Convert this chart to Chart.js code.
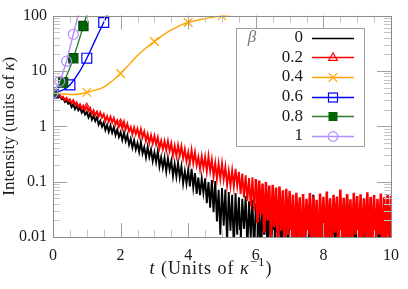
<!DOCTYPE html>
<html>
<head>
<meta charset="utf-8">
<script src="https://cdn.jsdelivr.net/npm/chart.js@4.4.0/dist/chart.umd.min.js"></script>
<style>
  html, body { margin: 0; padding: 0; background: #fff; }
  canvas { display: block; }
</style>
</head>
<body>
<canvas id="chart" width="408" height="289"></canvas>
<script>
// beta values shown in the legend
const betas = ['0', '0.2', '0.4', '0.6', '0.8', '1'];

// noisy traces, sampled every 0.05 in t
const noisyStep = 0.05;
const beta0 = [
  4.00, 3.67, 3.92, 3.33, 3.53, 3.10, 3.29, 2.76, 2.93, 2.55, 2.70,
  2.22, 2.49, 2.05, 2.35, 1.94, 2.18, 1.76, 1.99, 1.63, 1.81,
  1.45, 1.73, 1.32, 1.55, 1.24, 1.46, 1.07, 1.26, 0.99, 1.17,
  0.86, 1.06, 0.80, 1.03, 0.77, 0.97, 0.69, 0.875, 0.646, 0.786,
  0.567, 0.772, 0.542, 0.693, 0.466, 0.595, 0.410, 0.557, 0.383, 0.499,
  0.345, 0.520, 0.324, 0.420, 0.275, 0.426, 0.278, 0.380, 0.236, 0.339,
  0.226, 0.355, 0.189, 0.278, 0.178, 0.271, 0.153, 0.264, 0.163, 0.235,
  0.126, 0.208, 0.124, 0.221, 0.118, 0.188, 0.093, 0.154, 0.092, 0.164,
  0.082, 0.171, 0.078, 0.143, 0.060, 0.119, 0.057, 0.114, 0.063, 0.115,
  0.041, 0.098, 0.034, 0.107, 0.028, 0.103, 0.019, 0.071, 0.011, 0.077,
  0.016, 0.072, 0.008, 0.065, 0.013, 0.058, 0.006, 0.062, 0.011, 0.052,
  0.007, 0.049, 0.014, 0.055, 0.006, 0.044, 0.010, 0.047, 0.005, 0.040,
  0.009, 0.036, 0.004, 0.042, 0.011, 0.031, 0.006, 0.038, 0.008, 0.045,
  0.005, 0.029, 0.012, 0.040, 0.004, 0.033, 0.009, 0.052, 0.006, 0.030,
  0.010, 0.037, 0.005, 0.028, 0.008, 0.043, 0.004, 0.034, 0.011, 0.039,
  0.006, 0.031, 0.009, 0.058, 0.005, 0.035, 0.012, 0.030, 0.004, 0.041,
  0.008, 0.033, 0.006, 0.038, 0.010, 0.029, 0.005, 0.044, 0.009, 0.032,
  0.004, 0.036, 0.011, 0.055, 0.006, 0.030, 0.008, 0.039, 0.005, 0.034,
  0.010, 0.042, 0.004, 0.031, 0.009, 0.037, 0.006, 0.050, 0.012, 0.033,
  0.005, 0.040, 0.008, 0.029, 0.004, 0.036, 0.010, 0.045, 0.006, 0.032
];
const beta02 = [
  4.00, 3.66, 4.02, 3.47, 3.73, 3.23, 3.39, 2.97, 3.25, 2.85, 3.06,
  2.62, 2.96, 2.49, 2.71, 2.24, 2.49, 2.09, 2.36, 1.99, 2.25,
  1.88, 2.13, 1.68, 1.93, 1.59, 1.84, 1.50, 1.78, 1.44, 1.65,
  1.25, 1.52, 1.21, 1.48, 1.18, 1.41, 1.08, 1.28, 0.98, 1.17,
  0.907, 1.199, 0.879, 1.103, 0.809, 0.964, 0.719, 0.951, 0.722, 0.905,
  0.649, 0.893, 0.633, 0.802, 0.546, 0.720, 0.501, 0.689, 0.489, 0.672,
  0.470, 0.629, 0.402, 0.549, 0.385, 0.538, 0.369, 0.540, 0.361, 0.494,
  0.295, 0.444, 0.292, 0.451, 0.297, 0.435, 0.263, 0.385, 0.233, 0.341,
  0.216, 0.374, 0.216, 0.340, 0.196, 0.278, 0.167, 0.287, 0.177, 0.278,
  0.153, 0.288, 0.155, 0.250, 0.124, 0.216, 0.112, 0.210, 0.113, 0.213,
  0.110, 0.185, 0.086, 0.155, 0.084, 0.160, 0.082, 0.170, 0.084, 0.150,
  0.060, 0.140, 0.052, 0.130, 0.045, 0.116, 0.036, 0.120, 0.030, 0.112,
  0.018, 0.105, 0.025, 0.092, 0.012, 0.098, 0.020, 0.085, 0.009, 0.088,
  0.015, 0.078, 0.007, 0.082, 0.013, 0.070, 0.006, 0.074, 0.011, 0.068,
  0.008, 0.058, 0.005, 0.063, 0.010, 0.052, 0.004, 0.060, 0.007, 0.049,
  0.011, 0.062, 0.006, 0.055, 0.009, 0.047, 0.004, 0.061, 0.008, 0.053,
  0.005, 0.066, 0.010, 0.050, 0.006, 0.058, 0.012, 0.054, 0.004, 0.072,
  0.008, 0.051, 0.005, 0.060, 0.009, 0.048, 0.006, 0.063, 0.011, 0.055,
  0.004, 0.059, 0.007, 0.050, 0.010, 0.064, 0.005, 0.053, 0.008, 0.057,
  0.006, 0.049, 0.011, 0.061, 0.004, 0.052, 0.009, 0.058, 0.006, 0.055
];

// smooth growing traces
const tBeta04 = [0, 0.25, 0.5, 0.75, 1, 1.25, 1.5, 1.75, 2, 2.25, 2.5, 2.75, 3, 3.25, 3.5, 3.75, 4, 4.25, 4.5, 4.75, 5, 5.25, 5.5];
const beta04 = [4, 3.85, 3.75, 3.8, 4.1, 4.5, 5.1, 6.6, 9.0, 13, 19, 26, 34, 44, 55, 66, 75, 82, 88, 94, 99, 104, 109];
const tBeta06 = [0, 0.25, 0.5, 0.75, 1, 1.25, 1.5, 1.75];
const beta06 = [4, 4.4, 5.6, 9, 17, 36, 75, 150];
const tBeta08 = [0, 0.15, 0.3, 0.45, 0.6, 0.75, 0.9, 1.05];
const beta08 = [4, 4.9, 6.2, 9.6, 17, 33, 65, 130];
const tBeta1 = [0, 0.1, 0.2, 0.3, 0.4, 0.5, 0.6, 0.7, 0.8];
const beta1 = [4, 4.9, 6.5, 9.6, 15, 26, 46, 80, 140];

const xTicks = [0, 2, 4, 6, 8, 10];
const yTicks = [0.01, 0.1, 1, 10, 100];
const yTickLabels = ['0.01', '0.1', '1', '10', '100'];

const serif = "'Liberation Serif', serif";

function zip(xs, ys) {
  return ys.map((y, i) => ({ x: xs[i], y: y }));
}
const noisyTimes = beta0.map((_, i) => +(i * noisyStep).toFixed(2));

function everyNth(n, r, last) {
  return ctx => (ctx.dataIndex % n === 0 && ctx.dataIndex <= last ? r : 0);
}

const series = [
  { label: '0', data: zip(noisyTimes, beta0), color: '#000000', style: false, order: 6, width: 1.9, floorWidth: 2.2 },
  { label: '0.2', data: zip(noisyTimes, beta02), color: '#ff0000', style: 'triangle', order: 5, width: 1.9, floorWidth: 2.5, every: 20, last: 40, r: 3.5 },
  { label: '0.4', data: zip(tBeta04, beta04), color: '#ffa500', style: 'crossRot', order: 4, width: 1.4, every: 4, last: 99, r: 6 },
  { label: '0.6', data: zip(tBeta06, beta06), color: '#0000ff', style: 'rect', order: 3, width: 1.4, every: 2, last: 99, r: 7 },
  { label: '0.8', data: zip(tBeta08, beta08), color: '#2f7d2f', fill: '#006400', style: 'rect', order: 2, width: 1.4, every: 2, last: 99, r: 6.5 },
  { label: '1', data: zip(tBeta1, beta1), color: '#b38cff', style: 'circle', order: 1, width: 1.4, every: 2, last: 99, r: 5 }
];

// frame with inward ticks on all four sides
const framePlugin = {
  id: 'frame',
  afterDatasetsDraw(chart) {
    const { ctx, chartArea: a, scales: { x, y } } = chart;
    ctx.save();
    ctx.lineWidth = 1;
    // minor ticks
    ctx.strokeStyle = '#c4c4c4';
    ctx.beginPath();
    for (let v = 0.5; v < 10; v += 0.5) {
      if (v % 2 === 0) continue;
      const px = Math.round(x.getPixelForValue(v)) + 0.5;
      ctx.moveTo(px, a.bottom); ctx.lineTo(px, a.bottom - 7);
      ctx.moveTo(px, a.top); ctx.lineTo(px, a.top + 7);
    }
    for (let d = -2; d < 2; d++) {
      for (let k = 2; k <= 9; k++) {
        const py = Math.round(y.getPixelForValue(k * Math.pow(10, d))) + 0.5;
        ctx.moveTo(a.left, py); ctx.lineTo(a.left + 7, py);
        ctx.moveTo(a.right, py); ctx.lineTo(a.right - 7, py);
      }
    }
    ctx.stroke();
    // major ticks
    ctx.strokeStyle = '#a0a0a0';
    ctx.beginPath();
    xTicks.slice(1, -1).forEach(v => {
      const px = Math.round(x.getPixelForValue(v)) + 0.5;
      ctx.moveTo(px, a.bottom); ctx.lineTo(px, a.bottom - 14);
      ctx.moveTo(px, a.top); ctx.lineTo(px, a.top + 14);
    });
    yTicks.slice(1, -1).forEach(v => {
      const py = Math.round(y.getPixelForValue(v)) + 0.5;
      ctx.moveTo(a.left, py); ctx.lineTo(a.left + 14, py);
      ctx.moveTo(a.right, py); ctx.lineTo(a.right - 14, py);
    });
    ctx.stroke();
    ctx.strokeStyle = '#8c8c8c';
    ctx.strokeRect(Math.round(a.left) + 0.5, Math.round(a.top) + 0.5,
      Math.round(a.right - a.left), Math.round(a.bottom - a.top));
    ctx.restore();
  }
};

function drawRuns(ctx, runs, x, y, align) {
  let total = 0;
  runs.forEach(r => { ctx.font = r.font; total += ctx.measureText(r.text).width; });
  let cx = align === 'center' ? x - total / 2 : x;
  runs.forEach(r => {
    ctx.font = r.font;
    ctx.fillText(r.text, cx, y + (r.dy || 0));
    cx += ctx.measureText(r.text).width;
  });
}

const titlesPlugin = {
  id: 'titles',
  afterDraw(chart) {
    const { ctx, chartArea: a } = chart;
    ctx.save();
    ctx.fillStyle = '#1a1a1a';
    ctx.textBaseline = 'middle';
    ctx.letterSpacing = '1px';
    const up = '18px ' + serif, it = 'italic 18px ' + serif, sm = '13px ' + serif;
    drawRuns(ctx, [
      { text: 't', font: it },
      { text: ' (Units of ', font: up },
      { text: 'κ', font: it },
      { text: '−1', font: sm, dy: -6 },
      { text: ')', font: up }
    ], 211, 269, 'center');
    ctx.letterSpacing = '0px';
    const up2 = '17px ' + serif, it2 = 'italic 17px ' + serif;
    ctx.translate(10, (a.top + a.bottom) / 2);
    ctx.rotate(-Math.PI / 2);
    drawRuns(ctx, [
      { text: 'Intensity (units of ', font: up2 },
      { text: 'κ', font: it2 },
      { text: ')', font: up2 }
    ], 0, 0, 'center');
    ctx.restore();
  }
};

function drawMarker(ctx, s, cx, cy) {
  ctx.save();
  ctx.strokeStyle = s.color;
  ctx.lineWidth = 1.2;
  ctx.beginPath();
  if (s.style === 'triangle') {
    ctx.moveTo(cx, cy - 4.5);
    ctx.lineTo(cx + 4.3, cy + 2.8);
    ctx.lineTo(cx - 4.3, cy + 2.8);
    ctx.closePath();
    ctx.stroke();
  } else if (s.style === 'crossRot') {
    ctx.moveTo(cx - 4.3, cy - 4.3); ctx.lineTo(cx + 4.3, cy + 4.3);
    ctx.moveTo(cx + 4.3, cy - 4.3); ctx.lineTo(cx - 4.3, cy + 4.3);
    ctx.stroke();
  } else if (s.style === 'rect') {
    if (s.fill) {
      ctx.fillStyle = s.fill;
      ctx.fillRect(cx - 4.5, cy - 4.5, 9, 9);
    } else {
      ctx.strokeRect(cx - 4.5, cy - 4.5, 9, 9);
    }
  } else if (s.style === 'circle') {
    ctx.arc(cx, cy, 4.8, 0, Math.PI * 2);
    ctx.stroke();
  }
  ctx.restore();
}

const legendPlugin = {
  id: 'betaLegend',
  afterDraw(chart) {
    const { ctx } = chart;
    const box = { left: 236, top: 28, right: 364, bottom: 146 };
    ctx.save();
    ctx.fillStyle = '#ffffff';
    ctx.fillRect(box.left, box.top, box.right - box.left, box.bottom - box.top);
    ctx.strokeStyle = '#a0a0a0';
    ctx.lineWidth = 1;
    ctx.strokeRect(box.left + 0.5, box.top + 0.5, box.right - box.left, box.bottom - box.top);
    ctx.textBaseline = 'middle';
    ctx.fillStyle = '#777777';
    ctx.font = 'italic 17px ' + serif;
    ctx.textAlign = 'center';
    ctx.fillText('β', 252, 38);
    series.forEach((s, i) => {
      const cy = 37.5 + i * 19.7;
      ctx.fillStyle = '#1a1a1a';
      ctx.font = '17px ' + serif;
      ctx.textAlign = 'right';
      ctx.fillText(betas[i], 303, cy);
      ctx.strokeStyle = s.color;
      ctx.lineWidth = 1.3;
      ctx.beginPath();
      ctx.moveTo(312, Math.round(cy) + 0.5);
      ctx.lineTo(354, Math.round(cy) + 0.5);
      ctx.stroke();
      drawMarker(ctx, s, 333, Math.round(cy) + 0.5);
    });
    ctx.restore();
  }
};

Chart.defaults.font.family = serif;
Chart.defaults.font.size = 16;
Chart.defaults.color = '#1a1a1a';

new Chart(document.getElementById('chart').getContext('2d'), {
  type: 'line',
  data: {
    datasets: series.map(s => ({
      label: s.label,
      data: s.data,
      order: s.order,
      borderColor: s.color,
      borderWidth: s.width,
      backgroundColor: s.fill || 'rgba(0,0,0,0)',
      pointStyle: s.style || 'circle',
      pointRadius: s.every ? everyNth(s.every, s.r, s.last) : 0,
      pointBorderColor: s.fill ? '#004a00' : s.color,
      pointBorderWidth: 1.2,
      pointBackgroundColor: s.fill || 'rgba(0,0,0,0)',
      tension: s.style && s.label !== '0.2' ? 0.35 : 0,
      fill: false,
      segment: s.floorWidth ? { borderWidth: c => (c.p0DataIndex >= 120 ? s.floorWidth : undefined) } : undefined
    }))
  },
  options: {
    responsive: false,
    animation: false,
    devicePixelRatio: 1,
    layout: { padding: { top: 13, right: 17, left: 0, bottom: 0 } },
    plugins: { legend: { display: false }, tooltip: { enabled: false } },
    scales: {
      x: {
        type: 'linear',
        min: 0,
        max: 10,
        grid: { display: false, drawTicks: false },
        border: { display: false },
        afterBuildTicks: s => { s.ticks = xTicks.map(v => ({ value: v })); },
        afterFit: s => { s.height = 52; },
        ticks: { padding: 9, maxRotation: 0, font: { size: 16 }, callback: v => String(v) }
      },
      y: {
        type: 'logarithmic',
        min: 0.01,
        max: 100,
        grid: { display: false, drawTicks: false },
        border: { display: false },
        afterBuildTicks: s => { s.ticks = yTicks.map(v => ({ value: v })); },
        afterFit: s => { s.width = 53; },
        ticks: { padding: 6, font: { size: 16 }, callback: (v, i) => yTickLabels[i] }
      }
    }
  },
  plugins: [framePlugin, legendPlugin, titlesPlugin]
});
</script>
</body>
</html>
